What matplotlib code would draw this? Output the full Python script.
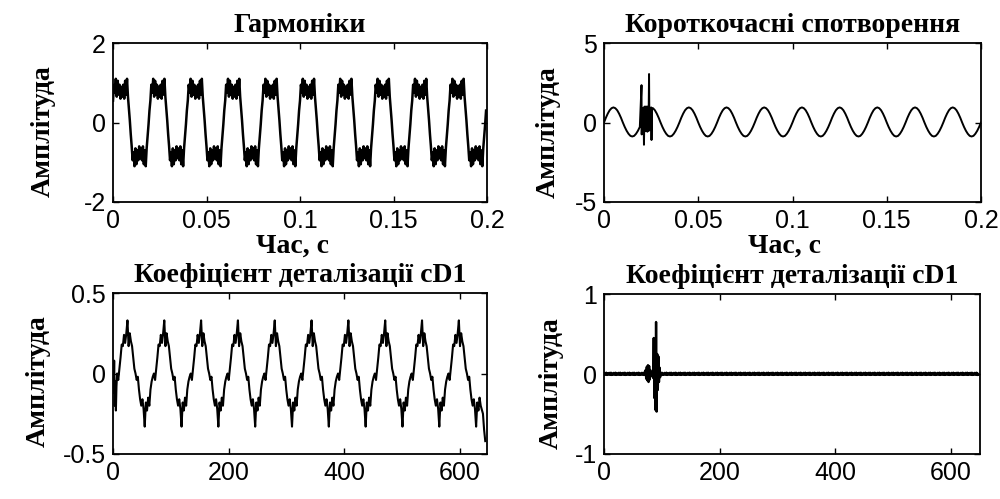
import numpy as np
import matplotlib
matplotlib.use("Agg")
import matplotlib.pyplot as plt

plt.rcParams["axes.unicode_minus"] = False

# --- Гармоніки: one 20 ms cycle, read every 0.5 ms, repeated for 10 cycles
harm_dt = 0.0005
harm_cycle = [
    0.55, 0.95, 0.75, 1.1, 0.65, 1.05, 0.7, 0.95, 0.6, 0.9, 0.65, 0.95, 0.6, 1.05, 0.7, 1.1,
    0.65, 0.35, 0.05, -0.3, -0.6,
    -0.95, -0.75, -1.1, -0.65, -1.05, -0.7, -0.95, -0.6, -0.9, -0.65, -0.95, -0.6, -1.05, -0.7, -1.1,
    -0.65, -0.35, -0.05, 0.3,
]
harm_cycles = 10

# --- Короткочасні спотворення: 50 Hz wave read every 1 ms plus the burst
sine_dt = 0.001
sine_cycle = [0.0, 0.3, 0.56, 0.77, 0.9, 0.95, 0.9, 0.77, 0.56, 0.3,
              0.0, -0.28, -0.52, -0.71, -0.84, -0.88, -0.84, -0.71, -0.52, -0.28]
sine_cycles = 10
burst_t_ms = [19.9, 20.0, 20.4, 20.8, 21.2, 21.5, 21.8, 22.1, 22.4, 22.7, 23.0,
              23.3, 23.6, 23.9, 24.1, 24.4, 24.7, 25.0, 25.2, 25.5]
burst_v = [2.35, -0.75, 0.9, -0.3, -1.4, 1.0, -0.55, 1.0, -0.5, 1.0, -0.58,
           1.0, -0.5, 3.05, -0.5, 0.9, -0.4, 0.8, -1.1, 0.9]

# --- cD1 of the harmonics signal
cd1_start_x = [0, 1, 2, 3, 4, 5, 6]
cd1_start_v = [0.05, -0.12, 0.08, -0.2, -0.05, -0.23, -0.08]
cd1_period = 63.7
cd1_first = 7.1
cd1_cycle = [0.0, -0.04, 0.03, 0.1, 0.18, 0.17, 0.24, 0.19, 0.25, 0.33, 0.17, 0.25,
             0.2, 0.17, 0.1, 0.03, 0.0, -0.04, -0.02, -0.1, -0.16, -0.2, -0.16, -0.22,
             -0.33, -0.18, -0.23, -0.15, -0.2, -0.1, -0.05, -0.02]
cd1_cut = 637
cd1_end_x = [640, 642, 644]
cd1_end_v = [-0.25, -0.35, -0.42]

# --- cD1 of the transient signal
cd1b_len = 648
cd1b_noise = [0.0, 0.014, -0.01, 0.004, 0.016, -0.012, 0.006, -0.008]
cd1b_burst_x = list(range(70, 99))
cd1b_burst_v = [0.0, 0.02, 0.05, -0.06, 0.09, -0.08, 0.11, -0.1, 0.1, -0.07, 0.05, -0.03,
                0.0, 0.01, 0.02, -0.05, 0.45, -0.3, 0.42, -0.45, 0.65, -0.47, 0.25, -0.2,
                0.22, -0.1, 0.08, -0.04, 0.0]

time_ticks = [0, 0.05, 0.1, 0.15, 0.2]
time_labels = ["0", "0.05", "0.1", "0.15", "0.2"]
sample_ticks = [0, 200, 400, 600]
sample_labels = ["0", "200", "400", "600"]

titles = ["Гармоніки", "Короткочасні спотворення",
          "Коефіцієнт деталізації cD1", "Коефіцієнт деталізації cD1"]
ylabel = "Амплітуда"
xlabel = "Час, с"

# build the series
harm_y = np.tile(harm_cycle, harm_cycles)
harm_t = np.arange(len(harm_y)) * harm_dt

sine_y = np.append(np.tile(sine_cycle, sine_cycles), 0.0)
sine_t = np.arange(len(sine_y)) * sine_dt
tr_t = np.concatenate([sine_t, np.array(burst_t_ms) / 1000])
tr_y = np.concatenate([sine_y, burst_v])
order = np.argsort(tr_t, kind="stable")
tr_t, tr_y = tr_t[order], tr_y[order]

cyc_v = np.tile(cd1_cycle, 11)
cyc_x = cd1_first + np.arange(len(cyc_v)) * cd1_period / len(cd1_cycle)
keep = cyc_x <= cd1_cut
cd1_x = np.concatenate([cd1_start_x, cyc_x[keep], cd1_end_x])
cd1_y = np.concatenate([cd1_start_v, cyc_v[keep], cd1_end_v])

cd1b_x = np.arange(cd1b_len)
cd1b_y = np.resize(cd1b_noise, cd1b_len).astype(float)
cd1b_y[cd1b_burst_x] = cd1b_burst_v

fig = plt.figure(figsize=(10, 4.99), dpi=100)

serif = {"family": "Liberation Serif", "weight": "bold", "size": 20}

panels = [
    # rect, x, y, xlim, ylim, yticks, ylabels, xticks, xlabels, ylabel coords, lw
    ([0.113, 0.5952, 0.374, 0.3186], harm_t, harm_y, (0, 0.2), (-2, 2),
     [-2, 0, 2], ["-2", "0", "2"], time_ticks, time_labels, (-0.152, 0.447), 1.8),
    ([0.604, 0.5952, 0.377, 0.3186], tr_t, tr_y, (0, 0.2), (-5, 5),
     [-5, 0, 5], ["-5", "0", "5"], time_ticks, time_labels, (-0.114, 0.44), 1.4),
    ([0.113, 0.0902, 0.374, 0.3226], cd1_x, cd1_y, (0, 647), (-0.5, 0.5),
     [-0.5, 0, 0.5], ["-0.5", "0", "0.5"], sample_ticks, sample_labels, (-0.166, 0.453), 1.5),
    ([0.604, 0.0902, 0.376, 0.3206], cd1b_x, cd1b_y, (0, 650), (-1, 1),
     [-1, 0, 1], ["-1", "0", "1"], sample_ticks, sample_labels, (-0.106, 0.444), 1.7),
]

for i, (rect, x, y, xlim, ylim, yt, yl, xt, xl, ylc, lw) in enumerate(panels):
    ax = fig.add_axes(rect)
    ax.plot(x, y, color="black", lw=lw)
    ax.set_xlim(*xlim)
    ax.set_ylim(*ylim)
    ax.set_xticks(xt)
    ax.set_xticklabels(xl, family="Liberation Sans", size=18)
    ax.set_yticks(yt)
    ax.set_yticklabels(yl, family="Liberation Sans", size=18)
    ax.tick_params(direction="in", top=True, right=True, length=4, width=1, pad=5)
    for s in ax.spines.values():
        s.set_linewidth(1.3)
    ax.set_title(titles[i], fontdict=serif, pad=8)
    ax.set_ylabel(ylabel, fontdict=serif)
    ax.yaxis.set_label_coords(*ylc)
    if i < 2:
        ax.set_xlabel(xlabel, fontdict=serif)
        ax.xaxis.set_label_coords(0.48, -0.2)

fig.savefig("out.png", dpi=100)
